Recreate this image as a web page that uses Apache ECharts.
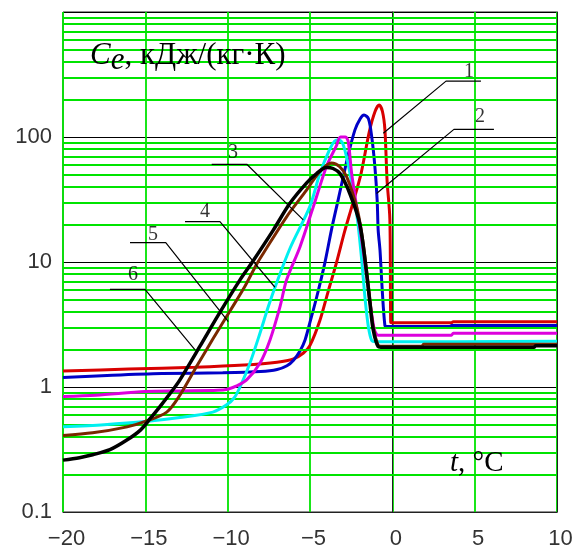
<!DOCTYPE html>
<html><head><meta charset="utf-8">
<script src="https://cdn.jsdelivr.net/npm/echarts@6/dist/echarts.min.js"></script>
<style>html,body{margin:0;padding:0;background:#fff}#c{width:577px;height:546px}</style>
</head><body><div id="c"></div>
<script>
// ---- data ----
const xTicks = [-20, -15, -10, -5, 0, 5, 10];
const yTicks = [0.1, 1, 10, 100, 1000];
const minorVals = [0.2,0.3,0.4,0.5,0.6,0.7,0.8,0.9, 2,3,4,5,6,7,8,9, 20,30,40,50,60,70,80,90, 200,300,400,500,600,700,800,900];

// curve 1 (red)
const t1 = [-20, -16, -12, -9, -7, -6, -5.4, -5.0, -4.4, -3.9, -3.4, -2.9, -2.45, -1.9, -1.4, -1.05, -0.8, -0.6, -0.45, -0.32, -0.15, -0.1, -0.05, 0.5, 3.6, 3.7, 10];
const v1 = [1.34, 1.39, 1.44, 1.5, 1.58, 1.68, 1.87, 2.15, 3.4, 5.8, 9.8, 17.5, 28, 51, 110, 160, 180, 160, 114, 45, 22, 3.3, 3.27, 3.27, 3.27, 3.33, 3.33];
// curve 2 (blue)
const t2 = [-20, -17, -14, -10.3, -8, -7, -6.4, -6.0, -5.6, -5.3, -5.0, -4.6, -4.1, -3.7, -3.3, -2.7, -2.27, -1.95, -1.72, -1.45, -1.25, -1.06, -0.92, -0.86, -0.75, -0.65, -0.55, -0.45, -0.4, 0.5, 3.5, 3.6, 10];
const v2 = [1.19, 1.24, 1.28, 1.30, 1.33, 1.38, 1.48, 1.64, 1.95, 2.38, 3.3, 5.2, 9.8, 18, 31, 70, 114, 140, 150, 140, 100, 58, 31, 18, 12.5, 7.2, 4.4, 3.1, 3.05, 3.05, 3.05, 3.1, 3.1];
// curve 3 (cyan)
const t3 = [-20, -17.5, -15, -12.9, -10.9, -10.06, -9.6, -9.25, -8.65, -8.04, -7.53, -7.03, -6.2, -5.0, -4.4, -3.8, -3.5, -3.25, -3.0, -2.7, -2.4, -2.1, -1.85, -1.65, -1.45, -1.25, -1.0, -0.8, 10];
const v3 = [0.48, 0.5, 0.53, 0.57, 0.63, 0.72, 0.82, 1.0, 1.55, 2.69, 4.4, 6.8, 13, 28, 51, 80, 93, 95, 88, 62, 38, 21, 10, 5, 3, 2.35, 2.3, 2.3, 2.32];
// curve 4 (magenta)
const t4 = [-20, -18, -15, -12.9, -10.6, -10.0, -9.45, -8.85, -8.04, -7.43, -6.82, -6.42, -5.61, -4.8, -4.0, -3.4, -3.15, -2.85, -2.68, -2.47, -2.17, -1.86, -1.55, -1.3, -1.1, -0.95, -0.85, 3.6, 3.7, 10];
const v4 = [0.84, 0.86, 0.92, 0.93, 0.94, 0.96, 1.02, 1.14, 1.55, 2.38, 4.4, 7.2, 13.2, 27.6, 58, 85, 100, 100, 92, 51, 27.7, 15, 7.5, 4.2, 2.9, 2.62, 2.6, 2.6, 2.69, 2.69];
// curve 5 (brown)
const t5 = [-20, -18.2, -16.1, -15, -13.7, -12.9, -11.9, -10.9, -9.86, -8.95, -8.24, -7.84, -6.42, -5.2, -4.4, -3.7, -3.2, -2.77, -2.17, -1.86, -1.56, -1.36, -1.16, -0.86, -0.7, 1.8, 1.9, 10];
const v5 = [0.41, 0.43, 0.48, 0.53, 0.63, 0.86, 1.45, 2.42, 4.05, 6.4, 9.6, 11.7, 23, 37.7, 53, 62, 58, 48, 27.7, 17, 8.5, 5, 3, 2.15, 2.12, 2.12, 2.2, 2.2];
// curve 6 (black)
const t6 = [-20, -19, -18.2, -17.15, -16.1, -15.3, -14.7, -14.1, -13.2, -12.9, -11.7, -10.5, -9.25, -8.5, -7.23, -6.22, -5.2, -4.6, -4.0, -3.6, -3.18, -2.57, -1.97, -1.56, -1.36, -1.16, -0.86, -0.7, 8.6, 8.7, 10];
const v6 = [0.26, 0.272, 0.287, 0.315, 0.378, 0.452, 0.56, 0.70, 1.0, 1.14, 2.1, 3.9, 7.2, 10, 18, 29.5, 43, 51, 57, 56, 51, 35, 20, 8.1, 4.7, 2.86, 2.1, 2.08, 2.08, 2.14, 2.14];

// leader lines (t, value)
const leader1 = [[5.38, 280], [3.26, 280], [-0.55, 107]];
const leader2 = [[6.17, 115], [3.74, 115], [-0.96, 35.3]];
const leader3 = [[-10.97, 60.5], [-8.84, 60.5], [-5.41, 21.7]];
const leader4 = [[-12.59, 21.0], [-10.47, 21.0], [-7.13, 6.28]];
const leader5 = [[-15.93, 14.3], [-13.76, 14.3], [-9.96, 3.33]];
const leader6 = [[-17.15, 6.05], [-15.02, 6.05], [-11.98, 1.98]];
const labelT = [4.66, 5.32, -9.68, -11.38, -14.53, -15.75];
const labelV = [333, 145, 75.4, 25.3, 16.4, 7.87];
const labelText = ['1', '2', '3', '4', '5', '6'];

// ---- chart ----
const chart = echarts.init(document.getElementById('c'), null, {renderer: 'canvas'});
const zip = (t, v) => t.map((x, i) => [x, v[i]]);
const curves = [
  {d: zip(t1, v1), color: '#d80000', w: 3},
  {d: zip(t2, v2), color: '#0000c8', w: 3},
  {d: zip(t3, v3), color: '#00f0f0', w: 3},
  {d: zip(t4, v4), color: '#dd00dd', w: 3},
  {d: zip(t5, v5), color: '#7a2800', w: 3},
  {d: zip(t6, v6), color: '#000000', w: 3.5}
];
const leaders = [leader1, leader2, leader3, leader4, leader5, leader6];
const serif = "'Liberation Serif', 'Times New Roman', serif";
const sans = "'Liberation Sans', Arial, sans-serif";

const series = [];
series.push({
  type: 'line', data: [[-20, 1]], showSymbol: false, silent: true, z: 1,
  lineStyle: {opacity: 0},
  markLine: {
    silent: true, symbol: 'none', animation: false,
    label: {show: false},
    lineStyle: {color: '#00e400', width: 1.8, type: 'solid'},
    data: minorVals.map(v => ({yAxis: v}))
  }
});
curves.forEach((c, i) => {
  series.push({
    type: 'line', data: c.d, showSymbol: false, smooth: 0.3,
    z: 3 + i,
    lineStyle: {color: c.color, width: c.w}
  });
});
leaders.forEach(l => {
  series.push({
    type: 'line', data: l, showSymbol: false, smooth: false, z: 10, silent: true,
    lineStyle: {color: '#000', width: 1.2}
  });
});
series.push({
  type: 'scatter', symbolSize: 0, z: 11, silent: true,
  data: labelT.map((t, i) => [t, labelV[i], labelText[i]]),
  label: {show: true, position: 'inside', formatter: p => p.value[2],
          fontFamily: serif, fontSize: 20, color: '#000'}
});

const option = {
  animation: false,
  backgroundColor: '#fff',
  grid: {left: 63, right: 20, top: 12, bottom: 34, containLabel: false, outerBoundsMode: 'none',
         show: true, borderColor: '#222', borderWidth: 1, backgroundColor: '#fff'},
  xAxis: {
    type: 'value', min: xTicks[0], max: xTicks[xTicks.length - 1], interval: 5,
    axisLine: {show: true, onZero: false, lineStyle: {color: '#222', width: 1}},
    axisTick: {show: false},
    axisLabel: {fontFamily: sans, fontSize: 22, color: '#333', margin: 16, padding: [0, 0, 0, 7],
                formatter: v => String(v).replace('-', '\u2212')},
    splitLine: {show: true, lineStyle: {color: '#00e400', width: 1.8}}
  },
  yAxis: [{
    type: 'log', logBase: 10, min: yTicks[0], max: yTicks[yTicks.length - 1],
    axisLine: {show: true, lineStyle: {color: '#222', width: 1}},
    axisTick: {show: false},
    axisLabel: {fontFamily: sans, fontSize: 22, color: '#333', margin: 11, padding: [12, 0, 0, 0], showMaxLabel: false,
                formatter: v => (v >= 999 ? '' : String(Number(v.toPrecision(3))))},
    splitLine: {show: true, lineStyle: {color: '#000', width: 1}}
  }, {
    type: 'log', logBase: 10, min: yTicks[0], max: yTicks[yTicks.length - 1], position: 'right',
    axisLine: {show: true, lineStyle: {color: '#222', width: 1}},
    axisTick: {show: false}, axisLabel: {show: false}, splitLine: {show: false}
  }],
  graphic: [
    {type: 'text', left: 90, top: 40, z: 20,
     style: {text: '{c|C}{e|e}{n|, кДж/(кг·К)}', fill: '#000',
       rich: {
         c: {fontFamily: serif, fontSize: 31, fontStyle: 'italic', verticalAlign: 'top'},
         e: {fontFamily: serif, fontSize: 31, fontStyle: 'italic', verticalAlign: 'top', padding: [5, 0, 0, 0]},
         n: {fontFamily: serif, fontSize: 31, verticalAlign: 'top'}
       }}},
    {type: 'text', left: 450, top: 449, z: 20,
     style: {text: '{t|t}{n|, °C}', fill: '#000',
       rich: {
         t: {fontFamily: serif, fontSize: 29, fontStyle: 'italic', lineHeight: 29},
         n: {fontFamily: serif, fontSize: 29, lineHeight: 29}
       }}}
  ],
  series: series
};
chart.setOption(option);
</script></body></html>
